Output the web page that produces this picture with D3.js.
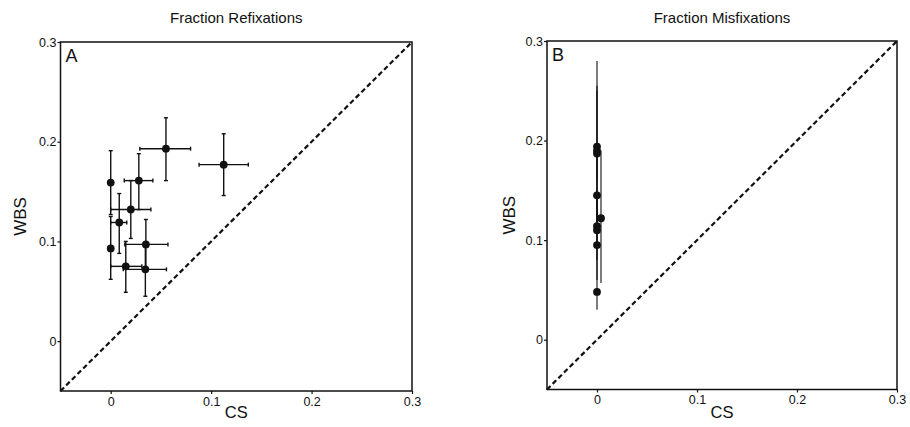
<!DOCTYPE html>
<html>
<head>
<meta charset="utf-8">
<script src="https://cdn.jsdelivr.net/npm/d3@7"></script>
<style>
  html, body { margin: 0; padding: 0; background: #fff; }
  svg { display: block; }
  text { font-family: "Liberation Sans", Arial, Helvetica, sans-serif; fill: #111; }
</style>
</head>
<body>
<svg id="chart" width="910" height="427"></svg>
<script>
// Panel A: refixation fractions, CS (x) vs WBS (y), with error ranges
const refixCS    = [0.055, 0.1125, 0.000, 0.028, 0.020, 0.0085, 0.035, 0.000, 0.015, 0.0345];
const refixWBS   = [0.193, 0.177,  0.159, 0.161, 0.132, 0.119,  0.097, 0.093, 0.075, 0.072];
const refixCSLo  = [0.029, 0.088,  0.000, 0.0135, 0.000, 0.000, 0.014, 0.000, 0.000, 0.0125];
const refixCSHi  = [0.0795, 0.137, 0.000, 0.042, 0.040, 0.016,  0.057, 0.000, 0.031, 0.0555];
const refixWBSLo = [0.161, 0.146,  0.127, 0.132, 0.103, 0.088,  0.072, 0.062, 0.049, 0.045];
const refixWBSHi = [0.224, 0.208,  0.191, 0.188, 0.161, 0.148,  0.122, 0.125, 0.100, 0.097];

// Panel B: misfixation fractions
const misfixCS    = [0.000, 0.000, 0.000, 0.000, 0.004, 0.000, 0.000, 0.000, 0.000];
const misfixWBS   = [0.194, 0.190, 0.187, 0.145, 0.122, 0.114, 0.110, 0.095, 0.048];
const misfixCSLo  = [0.000, 0.000, 0.000, 0.000, 0.004, 0.000, 0.000, 0.000, 0.000];
const misfixCSHi  = [0.000, 0.000, 0.000, 0.000, 0.004, 0.000, 0.000, 0.000, 0.000];
const misfixWBSLo = [0.160, 0.130, 0.120, 0.100, 0.057, 0.080, 0.070, 0.060, 0.030];
const misfixWBSHi = [0.280, 0.250, 0.255, 0.190, 0.190, 0.150, 0.150, 0.130, 0.070];

// Axes
const axisDomain = [-0.05, 0.3];
const tickValues = [0, 0.1, 0.2, 0.3];
const tickLabels = ["0", "0.1", "0.2", "0.3"];
const titles = ["Fraction Refixations", "Fraction Misfixations"];
const panelTags = ["A", "B"];
const xLabel = "CS";
const yLabel = "WBS";

const svg = d3.select("#chart");

function rows(cs, wbs, csLo, csHi, wbsLo, wbsHi) {
  return cs.map((c, i) => ({ x: c, y: wbs[i], xlo: csLo[i], xhi: csHi[i], ylo: wbsLo[i], yhi: wbsHi[i] }));
}

const panels = [
  { frame: { left: 60.5, right: 412, top: 42, bottom: 391 }, ylabX: 20, cap: 2, barWidth: 1.4,
    data: rows(refixCS, refixWBS, refixCSLo, refixCSHi, refixWBSLo, refixWBSHi) },
  { frame: { left: 547, right: 897, top: 41, bottom: 389.5 }, ylabX: 509, cap: 0, barWidth: 1.1,
    data: rows(misfixCS, misfixWBS, misfixCSLo, misfixCSHi, misfixWBSLo, misfixWBSHi) }
];

panels.forEach((p, k) => {
  const f = p.frame;
  const x = d3.scaleLinear().domain(axisDomain).range([f.left, f.right]);
  const y = d3.scaleLinear().domain(axisDomain).range([f.bottom, f.top]);
  const g = svg.append("g");

  // frame
  g.append("rect")
    .attr("x", f.left).attr("y", f.top)
    .attr("width", f.right - f.left).attr("height", f.bottom - f.top)
    .attr("fill", "none").attr("stroke", "#111").attr("stroke-width", 1.5);

  // axes
  const fmt = d => tickLabels[tickValues.indexOf(d)];
  const xAxis = g.append("g").attr("transform", `translate(0,${f.bottom})`)
    .call(d3.axisBottom(x).tickValues(tickValues).tickFormat(fmt).tickSize(3).tickPadding(3));
  const yAxis = g.append("g").attr("transform", `translate(${f.left},0)`)
    .call(d3.axisLeft(y).tickValues(tickValues).tickFormat(fmt).tickSize(3).tickPadding(1));
  [xAxis, yAxis].forEach(a => {
    a.select(".domain").remove();
    a.selectAll(".tick line").attr("stroke", "#111").attr("stroke-width", 1.2);
    a.selectAll(".tick text").attr("font-size", 12.5)
      .attr("font-family", "'Liberation Sans', Arial, sans-serif").attr("fill", "#111");
  });

  // identity line
  g.append("line")
    .attr("x1", x(axisDomain[0])).attr("y1", y(axisDomain[0]))
    .attr("x2", x(axisDomain[1])).attr("y2", y(axisDomain[1]))
    .attr("stroke", "#111").attr("stroke-width", 2.2)
    .attr("stroke-dasharray", "5,3");

  // error bars
  const eb = g.append("g").attr("stroke", "#111").attr("stroke-width", p.barWidth);
  const cap = p.cap;
  p.data.forEach(d => {
    if (d.yhi > d.ylo) {
      eb.append("line").attr("x1", x(d.x)).attr("x2", x(d.x)).attr("y1", y(d.ylo)).attr("y2", y(d.yhi));
      if (cap > 0) {
        eb.append("line").attr("x1", x(d.x) - cap).attr("x2", x(d.x) + cap).attr("y1", y(d.yhi)).attr("y2", y(d.yhi));
        eb.append("line").attr("x1", x(d.x) - cap).attr("x2", x(d.x) + cap).attr("y1", y(d.ylo)).attr("y2", y(d.ylo));
      }
    }
    if (d.xhi > d.xlo) {
      eb.append("line").attr("y1", y(d.y)).attr("y2", y(d.y)).attr("x1", x(d.xlo)).attr("x2", x(d.xhi));
      if (cap > 0) {
        eb.append("line").attr("y1", y(d.y) - cap).attr("y2", y(d.y) + cap).attr("x1", x(d.xlo)).attr("x2", x(d.xlo));
        eb.append("line").attr("y1", y(d.y) - cap).attr("y2", y(d.y) + cap).attr("x1", x(d.xhi)).attr("x2", x(d.xhi));
      }
    }
  });

  // points
  g.selectAll("circle.pt").data(p.data).join("circle")
    .attr("class", "pt")
    .attr("cx", d => x(d.x)).attr("cy", d => y(d.y)).attr("r", 3.9)
    .attr("fill", "#111");

  // texts
  g.append("text").attr("x", (f.left + f.right) / 2).attr("y", 23)
    .attr("text-anchor", "middle").attr("font-size", 15).text(titles[k]);
  g.append("text").attr("x", f.left + 5).attr("y", f.top + 20)
    .attr("font-size", 18).text(panelTags[k]);
  g.append("text").attr("x", (f.left + f.right) / 2).attr("y", 418)
    .attr("text-anchor", "middle").attr("font-size", 16.5).text(xLabel);
  g.append("text")
    .attr("transform", `translate(${p.ylabX},${(f.top + f.bottom) / 2}) rotate(-90)`)
    .attr("text-anchor", "middle").attr("dy", "0.35em").attr("font-size", 17).text(yLabel);
});
</script>
</body>
</html>
